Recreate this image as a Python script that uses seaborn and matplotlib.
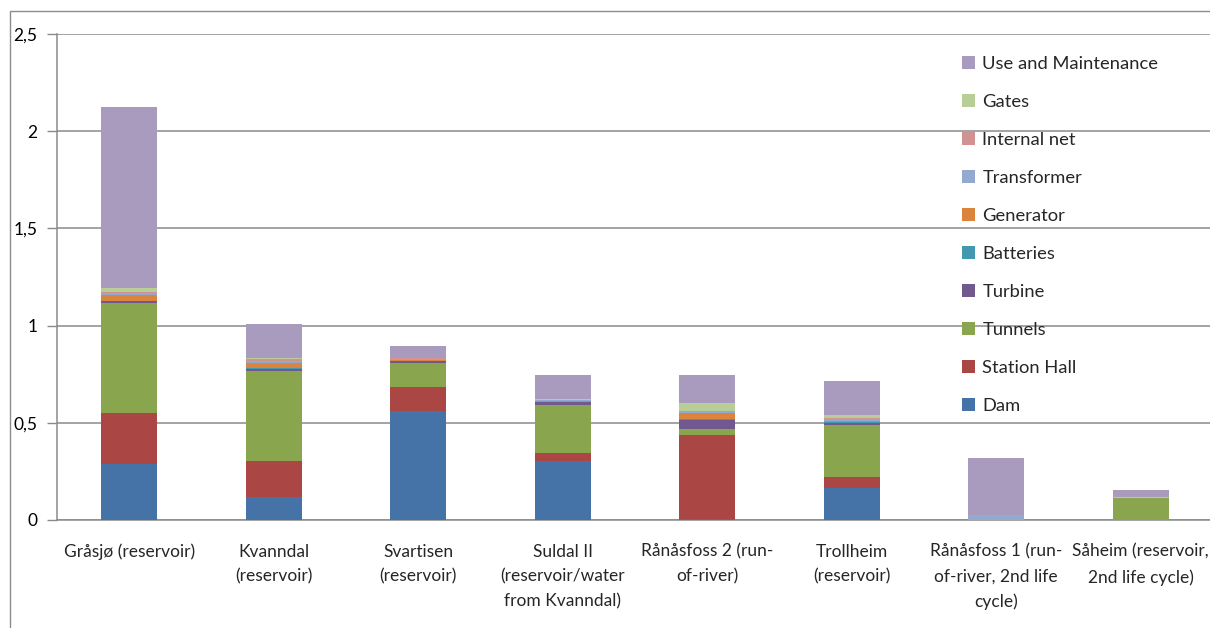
import matplotlib
matplotlib.use("Agg")
import matplotlib.pyplot as plt
from matplotlib.patches import Patch, Rectangle
import numpy as np
import pandas as pd
import seaborn as sns

categories = [
    "Gråsjø (reservoir)",
    "Kvanndal\n(reservoir)",
    "Svartisen\n(reservoir)",
    "Suldal II\n(reservoir/water\nfrom Kvanndal)",
    "Rånåsfoss 2 (run-\nof-river)",
    "Trollheim\n(reservoir)",
    "Rånåsfoss 1 (run-\nof-river, 2nd life\ncycle)",
    "Såheim (reservoir,\n2nd life cycle)",
]

dam          = [0.287, 0.117, 0.560, 0.302, 0.007, 0.163, 0.000, 0.000]
station_hall = [0.261, 0.184, 0.122, 0.045, 0.428, 0.059, 0.000, 0.000]
tunnels      = [0.567, 0.467, 0.127, 0.246, 0.034, 0.268, 0.000, 0.113]
turbine      = [0.010, 0.010, 0.007, 0.012, 0.045, 0.010, 0.000, 0.000]
batteries    = [0.002, 0.002, 0.002, 0.002, 0.004, 0.002, 0.000, 0.000]
generator    = [0.029, 0.026, 0.004, 0.003, 0.030, 0.008, 0.000, 0.000]
transformer  = [0.014, 0.014, 0.005, 0.007, 0.010, 0.011, 0.025, 0.002]
internal_net = [0.003, 0.008, 0.005, 0.002, 0.004, 0.006, 0.000, 0.000]
gates        = [0.018, 0.005, 0.003, 0.002, 0.038, 0.011, 0.000, 0.005]
use_maint    = [0.931, 0.176, 0.058, 0.123, 0.144, 0.178, 0.295, 0.033]

series_names = ["Dam", "Station Hall", "Tunnels", "Turbine", "Batteries",
                "Generator", "Transformer", "Internal net", "Gates",
                "Use and Maintenance"]
series_values = [dam, station_hall, tunnels, turbine, batteries, generator,
                 transformer, internal_net, gates, use_maint]
colors = ["#4572A7", "#AA4643", "#89A54E", "#71588F", "#4198AF",
          "#DB843D", "#93A9CF", "#D19392", "#B9CD96", "#A99BBD"]

y_ticks = [0, 0.5, 1, 1.5, 2, 2.5]
y_tick_labels = ["0", "0,5", "1", "1,5", "2", "2,5"]

sns.set_theme(style="white")
plt.rcParams["font.family"] = ["Lato", "DejaVu Sans"]

fig = plt.figure(figsize=(12.10, 6.28), dpi=100)
W, H = 1210, 628
ax = fig.add_axes([57 / W, 1 - 520 / H, 1156 / W, (520 - 34) / H])

# chart area border
fig.patches.append(Rectangle((10 / W, -0.1), 1.2, 1 - 11 / H + 0.1,
                             transform=fig.transFigure, fill=False,
                             edgecolor="#8c8c8c", linewidth=1.0, zorder=0))

bottom = np.zeros(len(categories))
for name, vals, col in zip(series_names, series_values, colors):
    df = pd.DataFrame({"cat": categories, "val": vals})
    sns.barplot(data=df, x="cat", y="val", color=col, bottom=bottom.copy(),
                width=0.39, ax=ax, saturation=1, linewidth=0, edgecolor=col,
                order=categories, errorbar=None, zorder=3)
    bottom += np.array(vals)

ax.set_xlim(-0.5, len(categories) - 0.5)
ax.set_ylim(0, 2.5)
ax.set_yticks(y_ticks)
ax.set_yticklabels(y_tick_labels, fontsize=12.5, color="#000000")
ax.yaxis.grid(True, color="#8a8a8a", linewidth=1.1, zorder=0)
ax.set_axisbelow(True)
ax.set_xlabel("")
ax.set_ylabel("")

ax.set_xticks(range(len(categories)))
ax.set_xticklabels(categories, fontsize=12.5, linespacing=1.68)
ax.set_xticks(np.arange(-0.5, len(categories), 1), minor=True)
ax.tick_params(axis="x", which="major", length=0, pad=17)
ax.tick_params(axis="x", which="minor", length=7, color="#8a8a8a", width=1, direction="out")
ax.tick_params(axis="y", which="major", length=7, color="#8a8a8a", width=1,
               direction="out", left=True, pad=7)

for s in ["top", "right"]:
    ax.spines[s].set_visible(False)
for s in ["left", "bottom"]:
    ax.spines[s].set_color("#8a8a8a")
    ax.spines[s].set_linewidth(1.1)

handles = [Patch(facecolor=c, edgecolor="none") for c in colors[::-1]]
leg = ax.legend(handles, series_names[::-1], loc="upper left",
                bbox_to_anchor=((955 - 57) / 1156, 1 - (49 - 34) / (520 - 34)),
                frameon=False, fontsize=13.2, handlelength=0.7, handleheight=0.7,
                handletextpad=0.4, labelspacing=1.2, borderaxespad=0)

fig.savefig("out.png", dpi=100)
